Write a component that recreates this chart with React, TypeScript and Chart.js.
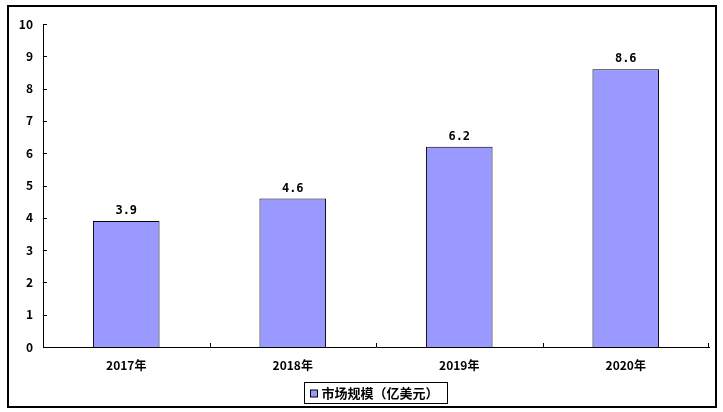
import React, { useEffect, useRef } from "react";
import { Chart, registerables } from "chart.js";

Chart.register(...registerables);

const categories = ["2017年", "2018年", "2019年", "2020年"];
const marketSize = [3.9, 4.6, 6.2, 8.6];
const seriesLabel = "市场规模（亿美元）";
const yMin = 0;
const yMax = 10;
const yStep = 1;

const BAR_COLOR = "#9999FF";
const FONT = "'Noto Sans CJK SC', 'DejaVu Sans', sans-serif";

const customPlugin = {
  id: "customDecor",
  afterDatasetsDraw(chart: any) {
    const ctx = chart.ctx;
    const meta = chart.getDatasetMeta(0);
    const data = chart.data.datasets[0].data as number[];
    ctx.save();
    ctx.fillStyle = "#000";
    ctx.font = "bold 12px 'DejaVu Sans Mono', monospace";
    ctx.textAlign = "center";
    ctx.textBaseline = "middle";
    meta.data.forEach((el: any, i: number) => {
      ctx.fillText(data[i].toFixed(1), el.x, el.y - 10);
    });
    ctx.restore();
  },
  afterDraw(chart: any) {
    const ctx = chart.ctx;
    const area = chart.chartArea;
    const xs = chart.scales.x;
    const ys = chart.scales.y;
    ctx.save();
    ctx.strokeStyle = "#000";
    ctx.lineWidth = 1;
    // y ticks (inside)
    ys.ticks.forEach((t: any) => {
      const y = Math.round(ys.getPixelForValue(t.value)) + 0.5;
      ctx.beginPath();
      ctx.moveTo(area.left, y);
      ctx.lineTo(area.left + 4, y);
      ctx.stroke();
    });
    // x ticks (inside, at category boundaries)
    const n = chart.data.labels.length;
    for (let i = 0; i < n; i++) {
      const c = xs.getPixelForValue(i);
      const next = i < n - 1 ? xs.getPixelForValue(i + 1) : area.right;
      const bx = i < n - 1 ? Math.round((c + next) / 2) + 0.5 : Math.round(area.right) - 0.5;
      ctx.beginPath();
      ctx.moveTo(bx, area.bottom);
      ctx.lineTo(bx, area.bottom - 4);
      ctx.stroke();
    }
    // legend
    ctx.font = "bold 13px " + FONT;
    const tw = ctx.measureText(seriesLabel).width;
    const boxW = 6 + 7 + 4 + tw + 9;
    const cx = (area.left + area.right) / 2;
    const lx = Math.round(cx - boxW / 2) + 0.5;
    const ly = Math.round(area.bottom + 35) + 0.5;
    const lh = 21;
    ctx.strokeRect(lx, ly, boxW, lh);
    const sq = 7;
    const sy = Math.round(ly + lh / 2 - sq / 2);
    ctx.fillStyle = BAR_COLOR;
    ctx.fillRect(lx + 6, sy, sq, sq);
    ctx.strokeRect(lx + 6, sy, sq, sq);
    ctx.fillStyle = "#000";
    ctx.textAlign = "left";
    ctx.textBaseline = "middle";
    ctx.fillText(seriesLabel, lx + 6 + sq + 4, ly + lh / 2 + 0.5);
    // outer frame
    ctx.lineWidth = 2;
    ctx.strokeRect(8, 6, 708, 401);
    ctx.restore();
  },
};

export default function App() {
  const ref = useRef<HTMLCanvasElement | null>(null);
  useEffect(() => {
    document.body.style.margin = "0";
    const canvas = ref.current;
    if (!canvas) return;
    const chart = new Chart(canvas, {
      type: "bar",
      data: {
        labels: categories,
        datasets: [
          {
            label: seriesLabel,
            data: marketSize,
            backgroundColor: BAR_COLOR,
            borderColor: "#000",
            borderWidth: 1,
            barPercentage: 0.4,
            categoryPercentage: 1,
          },
        ],
      },
      options: {
        responsive: false,
        animation: false,
        layout: { padding: { left: 0, top: 24, right: 14, bottom: 30 } },
        plugins: {
          legend: { display: false },
          tooltip: { enabled: false },
        },
        scales: {
          x: {
            grid: { display: false, drawTicks: false },
            border: { display: true, color: "#000", width: 1 },
            ticks: {
              color: "#000",
              padding: 11,
              font: { family: FONT, size: 12, weight: "bold" },
            },
            afterFit: (s: any) => {
              s.height = 35;
            },
          },
          y: {
            min: yMin,
            max: yMax,
            grid: { display: false, drawTicks: false },
            border: { display: true, color: "#000", width: 1 },
            ticks: {
              stepSize: yStep,
              color: "#000",
              padding: 10,
              font: { family: FONT, size: 12, weight: "bold" },
            },
            afterFit: (s: any) => {
              s.width = 43;
            },
          },
        },
      },
      plugins: [customPlugin],
    });
    return () => chart.destroy();
  }, []);
  return (
    <canvas
      ref={ref}
      width={723}
      height={412}
      style={{ display: "block", width: 723, height: 412 }}
    />
  );
}
